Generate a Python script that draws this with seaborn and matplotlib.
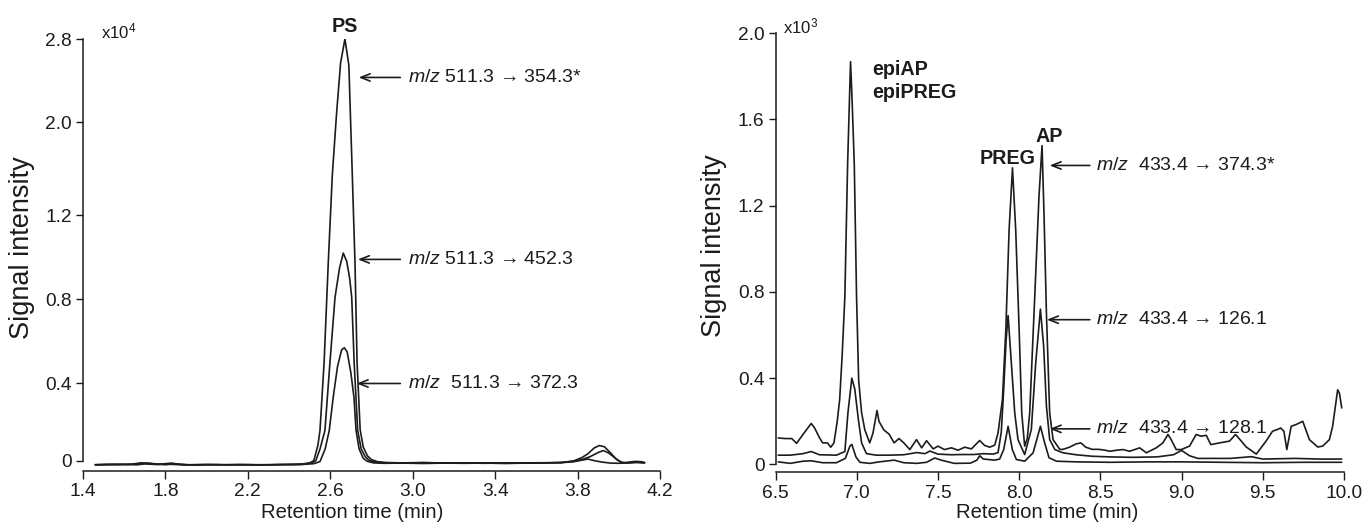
import numpy as np
import matplotlib
matplotlib.use("Agg")
import matplotlib.pyplot as plt
from matplotlib import font_manager as fm
import seaborn as sns

# ---------------- data: left panel (PS, signal x10^4) ----------------
ps_x_354 = [1.46, 1.52, 1.58, 1.64, 1.68, 1.72, 1.76, 1.80, 1.83, 1.86,
            1.92, 2.0, 2.08, 2.16, 2.24, 2.32, 2.40, 2.46, 2.50, 2.52,
            2.54, 2.55, 2.57, 2.59, 2.61, 2.63, 2.65, 2.671, 2.69, 2.705,
            2.72, 2.73, 2.745, 2.76, 2.78, 2.80, 2.83, 2.87, 2.95, 3.05,
            3.15, 3.25, 3.35, 3.45, 3.55, 3.65, 3.72, 3.78, 3.82, 3.85,
            3.88, 3.905, 3.93, 3.96, 3.99, 4.02, 4.05, 4.08, 4.11, 4.125]
ps_y_354 = [-0.022, -0.020, -0.021, -0.018, -0.012, -0.013, -0.020, -0.016, -0.013, -0.018,
            -0.022, -0.021, -0.022, -0.020, -0.022, -0.021, -0.020, -0.018, -0.012, 0.0,
            0.08, 0.156, 0.50, 0.97, 1.55, 2.07, 2.57, 2.80, 2.55, 1.65,
            0.97, 0.50, 0.16, 0.07, 0.025, 0.005, -0.006, -0.010, -0.012, -0.010,
            -0.013, -0.012, -0.014, -0.012, -0.013, -0.012, -0.010, -0.002, 0.015, 0.035,
            0.065, 0.078, 0.072, 0.040, 0.005, -0.012, -0.008, -0.004, -0.006, -0.010]

ps_x_452 = [1.46, 1.55, 1.62, 1.69, 1.74, 1.80, 1.84, 1.90, 2.0, 2.1,
            2.2, 2.3, 2.4, 2.47, 2.51, 2.53, 2.55, 2.574, 2.598, 2.623,
            2.645, 2.663, 2.68, 2.694, 2.704, 2.716, 2.733, 2.75, 2.77, 2.79,
            2.82, 2.86, 2.95, 3.05, 3.15, 3.25, 3.35, 3.45, 3.55, 3.65,
            3.72, 3.78, 3.82, 3.86, 3.90, 3.925, 3.95, 3.98, 4.01, 4.04,
            4.08, 4.125]
ps_y_452 = [-0.021, -0.019, -0.021, -0.015, -0.016, -0.021, -0.017, -0.022, -0.020, -0.022,
            -0.021, -0.022, -0.020, -0.019, -0.012, 0.0, 0.06, 0.156, 0.495, 0.81,
            0.95, 1.02, 0.98, 0.90, 0.81, 0.495, 0.156, 0.06, 0.02, 0.0,
            -0.008, -0.011, -0.013, -0.011, -0.012, -0.013, -0.012, -0.013, -0.012, -0.011,
            -0.010, -0.004, 0.005, 0.02, 0.042, 0.052, 0.040, 0.015, -0.008, -0.012,
            -0.008, -0.011]

ps_x_372 = [1.46, 1.54, 1.60, 1.66, 1.70, 1.75, 1.82, 1.88, 1.95, 2.05,
            2.15, 2.25, 2.35, 2.45, 2.52, 2.55, 2.575, 2.595, 2.614, 2.635,
            2.655, 2.668, 2.682, 2.70, 2.715, 2.725, 2.74, 2.76, 2.78, 2.81,
            2.86, 2.95, 3.05, 3.15, 3.25, 3.35, 3.45, 3.55, 3.65, 3.72,
            3.78, 3.82, 3.85, 3.88, 3.92, 3.96, 4.0, 4.05, 4.09, 4.125]
ps_y_372 = [-0.022, -0.021, -0.019, -0.022, -0.017, -0.020, -0.019, -0.022, -0.023, -0.021,
            -0.022, -0.023, -0.021, -0.021, -0.016, -0.005, 0.06, 0.156, 0.327, 0.48,
            0.56, 0.57, 0.55, 0.45, 0.327, 0.156, 0.06, 0.012, -0.004, -0.012,
            -0.014, -0.013, -0.015, -0.013, -0.014, -0.013, -0.015, -0.013, -0.012, -0.011,
            -0.006, 0.002, 0.008, 0.0, -0.008, -0.013, -0.014, -0.012, -0.010, -0.012]

ps_yticks = [0, 0.4, 0.8, 1.2, 2.0, 2.8]
ps_ytick_labels = ["0", "0.4", "0.8", "1.2", "2.0", "2.8"]
ps_xticks = [1.4, 1.8, 2.2, 2.6, 3.0, 3.4, 3.8, 4.2]
ps_labels = ["m/z 511.3 \u2192 354.3*", "m/z 511.3 \u2192 452.3", "m/z  511.3 \u2192 372.3"]

# ---------------- data: right panel (signal x10^3) ----------------
ap_x_374 = [6.517, 6.558, 6.60, 6.63, 6.67, 6.72, 6.74, 6.77, 6.79, 6.82,
            6.84, 6.86, 6.88, 6.895, 6.91, 6.927, 6.944, 6.962, 6.971, 6.985,
            6.999, 7.012, 7.03, 7.05, 7.08, 7.10, 7.125, 7.137, 7.167, 7.20,
            7.23, 7.26, 7.29, 7.327, 7.368, 7.40, 7.43, 7.471, 7.50, 7.54,
            7.583, 7.624, 7.665, 7.706, 7.757, 7.788, 7.819, 7.85, 7.87, 7.897,
            7.918, 7.938, 7.959, 7.979, 8.0, 8.016, 8.034, 8.05, 8.065, 8.096,
            8.122, 8.141, 8.153, 8.168, 8.188, 8.209, 8.25, 8.27, 8.31, 8.35,
            8.38, 8.41, 8.45, 8.49, 8.53, 8.557, 8.60, 8.639, 8.68, 8.742,
            8.783, 8.844, 8.885, 8.916, 8.936, 8.967, 8.998, 9.049, 9.09, 9.12,
            9.152, 9.18, 9.234, 9.295, 9.332, 9.36, 9.398, 9.46, 9.52, 9.56,
            9.59, 9.61, 9.63, 9.648, 9.675, 9.705, 9.746, 9.787, 9.838, 9.869,
            9.91, 9.93, 9.961, 9.972, 9.986]
ap_y_374 = [0.123, 0.12, 0.12, 0.098, 0.14, 0.19, 0.17, 0.125, 0.10, 0.10,
            0.08, 0.10, 0.20, 0.30, 0.50, 0.777, 1.393, 1.867, 1.70, 1.393,
            0.777, 0.39, 0.24, 0.16, 0.10, 0.145, 0.25, 0.20, 0.16, 0.14,
            0.10, 0.12, 0.10, 0.069, 0.115, 0.077, 0.11, 0.072, 0.085, 0.069,
            0.077, 0.066, 0.08, 0.072, 0.111, 0.088, 0.08, 0.09, 0.146, 0.30,
            0.624, 1.085, 1.375, 1.085, 0.624, 0.238, 0.085, 0.12, 0.238, 0.777,
            1.24, 1.478, 1.163, 0.70, 0.238, 0.115, 0.07, 0.07, 0.08, 0.095,
            0.10, 0.08, 0.07, 0.07, 0.066, 0.061, 0.066, 0.069, 0.061, 0.077,
            0.054, 0.077, 0.10, 0.139, 0.115, 0.069, 0.069, 0.085, 0.139, 0.131,
            0.135, 0.092, 0.10, 0.108, 0.139, 0.115, 0.081, 0.048, 0.108, 0.154,
            0.162, 0.169, 0.154, 0.069, 0.177, 0.185, 0.20, 0.115, 0.081, 0.085,
            0.115, 0.177, 0.346, 0.33, 0.262]

ap_x_126 = [6.517, 6.59, 6.67, 6.72, 6.77, 6.875, 6.927, 6.946, 6.97, 6.988,
            7.01, 7.03, 7.06, 7.12, 7.20, 7.29, 7.37, 7.42, 7.45, 7.50,
            7.58, 7.65, 7.72, 7.78, 7.84, 7.87, 7.89, 7.905, 7.92, 7.932,
            7.952, 7.973, 7.993, 8.034, 8.075, 8.102, 8.131, 8.151, 8.168, 8.188,
            8.22, 8.27, 8.35, 8.45, 8.56, 8.70, 8.85, 8.95, 9.0, 9.05,
            9.10, 9.30, 9.43, 9.50, 9.70, 9.85, 9.986]
ap_y_126 = [0.043, 0.043, 0.05, 0.06, 0.045, 0.043, 0.06, 0.24, 0.40, 0.35,
            0.21, 0.10, 0.05, 0.043, 0.043, 0.045, 0.055, 0.05, 0.062, 0.048,
            0.045, 0.046, 0.046, 0.05, 0.048, 0.055, 0.15, 0.35, 0.58, 0.69,
            0.47, 0.238, 0.115, 0.046, 0.162, 0.47, 0.72, 0.547, 0.27, 0.115,
            0.069, 0.054, 0.045, 0.038, 0.035, 0.033, 0.035, 0.045, 0.065, 0.04,
            0.028, 0.028, 0.036, 0.025, 0.028, 0.025, 0.025]

ap_x_128 = [6.517, 6.59, 6.67, 6.72, 6.79, 6.875, 6.93, 6.958, 6.97, 6.995,
            7.02, 7.08, 7.14, 7.23, 7.29, 7.37, 7.43, 7.48, 7.52, 7.60,
            7.70, 7.74, 7.757, 7.78, 7.85, 7.88, 7.905, 7.932, 7.958, 7.983,
            8.034, 8.086, 8.131, 8.157, 8.184, 8.23, 8.35, 8.56, 8.80, 9.0,
            9.25, 9.50, 9.75, 9.986]
ap_y_128 = [0.012, 0.005, 0.015, 0.017, 0.008, 0.008, 0.028, 0.085, 0.093, 0.035,
            0.01, 0.005, 0.012, 0.02, 0.008, 0.005, 0.01, 0.03, 0.02, 0.005,
            0.006, 0.02, 0.04, 0.025, 0.02, 0.025, 0.069, 0.177, 0.069, 0.023,
            0.015, 0.054, 0.177, 0.10, 0.031, 0.015, 0.012, 0.01, 0.012, 0.012,
            0.01, 0.008, 0.01, 0.01]

ap_yticks = [0, 0.4, 0.8, 1.2, 1.6, 2.0]
ap_ytick_labels = ["0", "0.4", "0.8", "1.2", "1.6", "2.0"]
ap_xticks = [6.5, 7.0, 7.5, 8.0, 8.5, 9.0, 9.5, 10.0]
ap_labels = ["m/z  433.4 \u2192 374.3*", "m/z  433.4 \u2192 126.1", "m/z  433.4 \u2192 128.1"]

# ---------------- fonts / style ----------------
sns.set_theme(style="ticks")
_names = {f.name for f in fm.fontManager.ttflist}
if "Liberation Sans Narrow" in _names:
    HF = "Liberation Sans Narrow"
    K = 1.0
else:
    HF = "Liberation Sans"
    K = 0.86
plt.rcParams["font.family"] = [HF, "Liberation Sans", "DejaVu Sans"]
plt.rcParams["mathtext.fontset"] = "custom"
plt.rcParams["mathtext.rm"] = HF
plt.rcParams["mathtext.it"] = HF + ":italic"
plt.rcParams["mathtext.bf"] = HF + ":bold"
INK = "#1c1c1c"
for k in ["axes.edgecolor", "xtick.color", "ytick.color", "text.color", "axes.labelcolor"]:
    plt.rcParams[k] = INK

FS_TICK = 16 * K
FS_XLAB = 17 * K
FS_ANN = 16.3 * K
FS_BOLD = 16.5 * K
FS_EXP = 14 * K
FS_YLAB = 19.5

fig = plt.figure(figsize=(13.66, 5.25), dpi=100)
W, H = 1366.0, 525.0
L_BOT, L_TOP = 471.0, 39.0
R_BOT, R_TOP = 472.0, 33.0
axL = fig.add_axes([83 / W, 1 - L_BOT / H, (660 - 83) / W, (L_BOT - L_TOP) / H])
axR = fig.add_axes([775.5 / W, 1 - R_BOT / H, (1344 - 775.5) / W, (R_BOT - R_TOP) / H])

# piecewise y scale of the left panel (ticks 0..1.2 step 0.4, then 2.0, 2.8 equally spaced)
Y_KNOTS = [-1.0, 0.0, 0.4, 0.8, 1.2, 2.0, 2.8, 6.0]
P_KNOTS = [-192.5, 0.0, 77.0, 161.0, 245.0, 338.0, 421.0, 753.0]


def fwd(v):
    return np.interp(v, Y_KNOTS, P_KNOTS)


def inv(p):
    return np.interp(p, P_KNOTS, Y_KNOTS)


axL.set_yscale("function", functions=(fwd, inv))

lw = 1.2
for xs, ys in [(ps_x_354, ps_y_354), (ps_x_452, ps_y_452), (ps_x_372, ps_y_372)]:
    sns.lineplot(x=xs, y=ys, ax=axL, color=INK, lw=lw, estimator=None, sort=False)
for xs, ys in [(ap_x_374, ap_y_374), (ap_x_126, ap_y_126), (ap_x_128, ap_y_128)]:
    sns.lineplot(x=xs, y=ys, ax=axR, color=INK, lw=lw, estimator=None, sort=False)

axL.set_xlim(1.4, 4.2)
axL.set_ylim(-0.054, 2.8)
axR.set_xlim(6.5, 10.0)
axR.set_ylim(-0.035, 2.0)

for ax, xt, yt, ytl in [(axL, ps_xticks, ps_yticks, ps_ytick_labels),
                        (axR, ap_xticks, ap_yticks, ap_ytick_labels)]:
    ax.set_xticks(xt)
    ax.set_xticklabels(["{:.1f}".format(v) for v in xt])
    ax.set_yticks(yt)
    ax.set_yticklabels(ytl)
    ax.minorticks_off()
    ax.tick_params(direction="out", length=5, width=1.0, labelsize=FS_TICK, pad=3)
    ax.tick_params(axis="x", length=6, pad=3)
    for s in ["top", "right"]:
        ax.spines[s].set_visible(False)
    for s in ["left", "bottom"]:
        ax.spines[s].set_linewidth(1.1)
    ax.spines["left"].set_bounds(yt[0], yt[-1])
    ax.spines["bottom"].set_bounds(xt[0], xt[-1])
    ax.set_xlabel("Retention time (min)", fontsize=FS_XLAB)
    ax.set_ylabel("Signal intensity", fontsize=FS_YLAB, family=["Liberation Sans", "DejaVu Sans"])
    ax.xaxis.label.set_va("center")
    ax.yaxis.label.set_va("center")
    ax.patch.set_alpha(0)

axL.xaxis.set_label_coords(0.466, (L_BOT - 513) / (L_BOT - L_TOP))
axR.xaxis.set_label_coords(0.478, (R_BOT - 513) / (R_BOT - R_TOP))
axL.yaxis.set_label_coords((22 - 83) / 577, (L_BOT - 248) / (L_BOT - L_TOP))
axR.yaxis.set_label_coords((714 - 775.5) / 568.5, (R_BOT - 246) / (R_BOT - R_TOP))

# ---------------- annotations ----------------
arrow_kw = dict(arrowstyle="->, head_length=0.55, head_width=0.22", lw=1.2, color=INK,
                shrinkA=0, shrinkB=0)


def mz_text(ax, s, x, y):
    rest = s.split(" ", 1)[1]
    ax.text(x, y, r"$\mathit{m/z}$ " + rest, fontsize=FS_ANN, ha="left", va="center")


axL.text(1.485, 2.87, r"x10$^{4}$", fontsize=FS_EXP, ha="left", va="center")
axL.annotate("PS", xy=(2.669, 2.8), xytext=(0, 2), textcoords="offset points",
             ha="center", va="bottom", fontsize=FS_BOLD, fontweight="bold")
for lab, ya, xh in zip(ps_labels, [2.43, 0.99, 0.40], [2.738, 2.734, 2.728]):
    axL.annotate("", xy=(xh, ya), xytext=(2.94, ya), arrowprops=arrow_kw)
    mz_text(axL, lab, 2.975, ya)

axR.text(6.545, 2.03, r"x10$^{3}$", fontsize=FS_EXP, ha="left", va="center")
axR.text(7.093, 1.83, "epiAP", fontsize=FS_BOLD, fontweight="bold", ha="left", va="center")
axR.text(7.093, 1.725, "epiPREG", fontsize=FS_BOLD, fontweight="bold", ha="left", va="center")
axR.text(7.93, 1.42, "PREG", fontsize=FS_BOLD, fontweight="bold", ha="center", va="center")
axR.text(8.184, 1.52, "AP", fontsize=FS_BOLD, fontweight="bold", ha="center", va="center")
for lab, ya, xh in zip(ap_labels, [1.386, 0.671, 0.165], [8.188, 8.171, 8.188]):
    axR.annotate("", xy=(xh, ya), xytext=(8.435, ya), arrowprops=arrow_kw)
    mz_text(axR, lab, 8.475, ya)

fig.savefig("out.png", dpi=100, facecolor="white")
